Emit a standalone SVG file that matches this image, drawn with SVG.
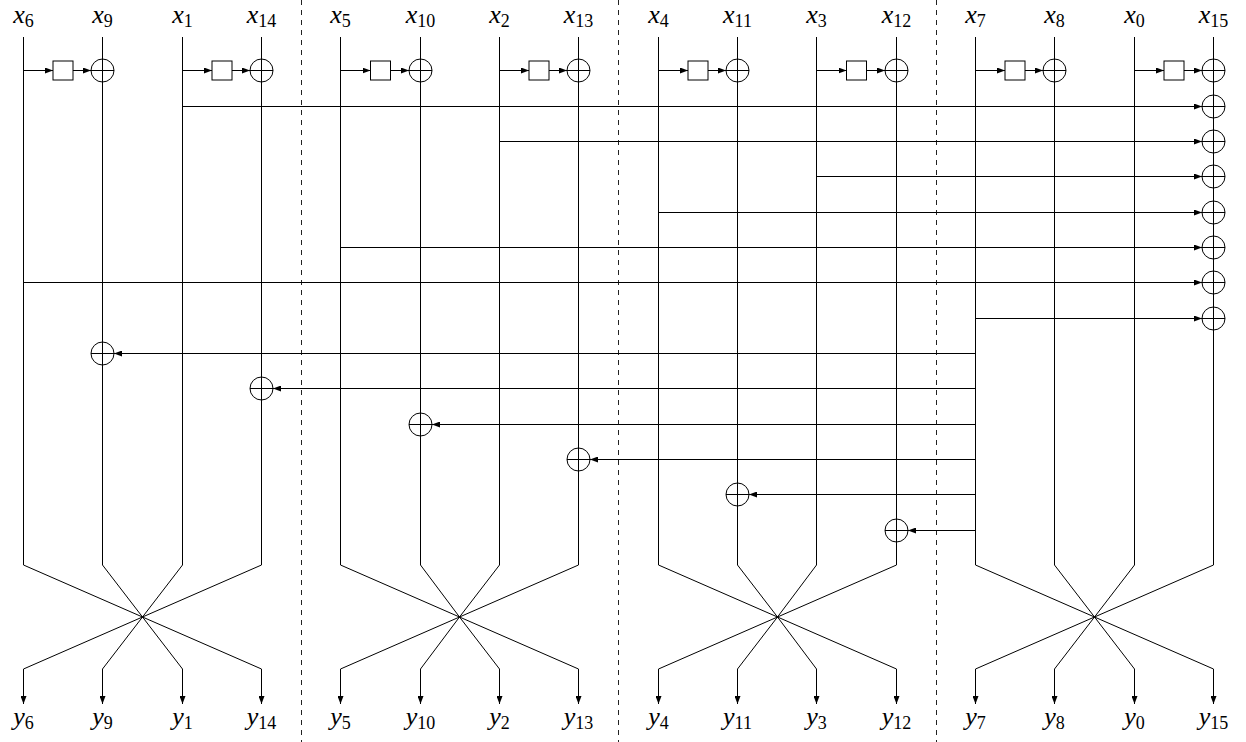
<svg xmlns="http://www.w3.org/2000/svg" width="1246" height="742" viewBox="0 0 1246 742">
<style>
.ln{stroke:#000;stroke-width:1;fill:none}
.ar{stroke:#000;stroke-width:1;fill:none;marker-end:url(#ah)}
.dash{stroke:#222;stroke-width:1;stroke-dasharray:5 5;fill:none}
.xor circle{fill:#fff;stroke:#000;stroke-width:1}
.xor line{stroke:#000;stroke-width:1}
.box rect{fill:#fff;stroke:#000;stroke-width:1}
.lbl{font-family:"Liberation Serif","Times New Roman",serif;font-style:italic;font-size:26px;text-anchor:middle;fill:#000}
.sub{font-style:normal;font-size:18px}
</style>
<defs>
<marker id="ah" viewBox="0 0 8 6" refX="8" refY="3" markerWidth="8" markerHeight="6" orient="auto" markerUnits="userSpaceOnUse"><path d="M0,0L8,3L0,6z" fill="#000"/></marker>
</defs>
<rect width="1246" height="742" fill="#fff"/>
<g id="separators">
<line class="dash" x1="301.5" y1="0" x2="301.5" y2="742"/>
<line class="dash" x1="618.5" y1="0" x2="618.5" y2="742"/>
<line class="dash" x1="936.5" y1="0" x2="936.5" y2="742"/>
</g>
<g id="connectors">
<path class="ln" d="M23.5,37V565M102.5,37V565M182.5,37V565M261.5,37V565M340.5,37V565M420.5,37V565M499.5,37V565M578.5,37V565M658.5,37V565M737.5,37V565M816.5,37V565M896.5,37V565M975.5,37V565M1054.5,37V565M1134.5,37V565M1213.5,37V565"/>
<path class="ln" d="M23.5,565L142.5,617L261.5,669M102.5,565L142.5,617L182.5,669M182.5,565L142.5,617L102.5,669M261.5,565L142.5,617L23.5,669"/>
<path class="ln" d="M340.5,565L459.5,617L578.5,669M420.5,565L459.5,617L499.5,669M499.5,565L459.5,617L420.5,669M578.5,565L459.5,617L340.5,669"/>
<path class="ln" d="M658.5,565L777.5,617L896.5,669M737.5,565L777.5,617L816.5,669M816.5,565L777.5,617L737.5,669M896.5,565L777.5,617L658.5,669"/>
<path class="ln" d="M975.5,565L1094.5,617L1213.5,669M1054.5,565L1094.5,617L1134.5,669M1134.5,565L1094.5,617L1054.5,669M1213.5,565L1094.5,617L975.5,669"/>
<line class="ar" x1="23.5" y1="669" x2="23.5" y2="704"/>
<line class="ar" x1="102.5" y1="669" x2="102.5" y2="704"/>
<line class="ar" x1="182.5" y1="669" x2="182.5" y2="704"/>
<line class="ar" x1="261.5" y1="669" x2="261.5" y2="704"/>
<line class="ar" x1="340.5" y1="669" x2="340.5" y2="704"/>
<line class="ar" x1="420.5" y1="669" x2="420.5" y2="704"/>
<line class="ar" x1="499.5" y1="669" x2="499.5" y2="704"/>
<line class="ar" x1="578.5" y1="669" x2="578.5" y2="704"/>
<line class="ar" x1="658.5" y1="669" x2="658.5" y2="704"/>
<line class="ar" x1="737.5" y1="669" x2="737.5" y2="704"/>
<line class="ar" x1="816.5" y1="669" x2="816.5" y2="704"/>
<line class="ar" x1="896.5" y1="669" x2="896.5" y2="704"/>
<line class="ar" x1="975.5" y1="669" x2="975.5" y2="704"/>
<line class="ar" x1="1054.5" y1="669" x2="1054.5" y2="704"/>
<line class="ar" x1="1134.5" y1="669" x2="1134.5" y2="704"/>
<line class="ar" x1="1213.5" y1="669" x2="1213.5" y2="704"/>
<line class="ar" x1="23.5" y1="70.5" x2="53" y2="70.5"/><line class="ar" x1="73" y1="70.5" x2="91" y2="70.5"/>
<line class="ar" x1="182.5" y1="70.5" x2="212" y2="70.5"/><line class="ar" x1="232" y1="70.5" x2="250" y2="70.5"/>
<line class="ar" x1="340.5" y1="70.5" x2="370.5" y2="70.5"/><line class="ar" x1="390.5" y1="70.5" x2="409" y2="70.5"/>
<line class="ar" x1="499.5" y1="70.5" x2="529" y2="70.5"/><line class="ar" x1="549" y1="70.5" x2="567" y2="70.5"/>
<line class="ar" x1="658.5" y1="70.5" x2="688" y2="70.5"/><line class="ar" x1="708" y1="70.5" x2="726" y2="70.5"/>
<line class="ar" x1="816.5" y1="70.5" x2="846.5" y2="70.5"/><line class="ar" x1="866.5" y1="70.5" x2="885" y2="70.5"/>
<line class="ar" x1="975.5" y1="70.5" x2="1005" y2="70.5"/><line class="ar" x1="1025" y1="70.5" x2="1043" y2="70.5"/>
<line class="ar" x1="1134.5" y1="70.5" x2="1164" y2="70.5"/><line class="ar" x1="1184" y1="70.5" x2="1202" y2="70.5"/>
<line class="ar" x1="182.5" y1="106.5" x2="1202" y2="106.5"/>
<line class="ar" x1="499.5" y1="141.5" x2="1202" y2="141.5"/>
<line class="ar" x1="816.5" y1="176.5" x2="1202" y2="176.5"/>
<line class="ar" x1="658.5" y1="212.5" x2="1202" y2="212.5"/>
<line class="ar" x1="340.5" y1="247.5" x2="1202" y2="247.5"/>
<line class="ar" x1="23.5" y1="282.5" x2="1202" y2="282.5"/>
<line class="ar" x1="975.5" y1="318.5" x2="1202" y2="318.5"/>
<line class="ar" x1="975.5" y1="353.5" x2="114" y2="353.5"/>
<line class="ar" x1="975.5" y1="388.5" x2="273" y2="388.5"/>
<line class="ar" x1="975.5" y1="424.5" x2="432" y2="424.5"/>
<line class="ar" x1="975.5" y1="459.5" x2="590" y2="459.5"/>
<line class="ar" x1="975.5" y1="494.5" x2="749" y2="494.5"/>
<line class="ar" x1="975.5" y1="530.5" x2="908" y2="530.5"/>
</g>
<g id="boxes">
<g id="box0" class="box"><rect x="53" y="61" width="20" height="19"/></g>
<g id="box1" class="box"><rect x="212" y="61" width="20" height="19"/></g>
<g id="box2" class="box"><rect x="370.5" y="61" width="20" height="19"/></g>
<g id="box3" class="box"><rect x="529" y="61" width="20" height="19"/></g>
<g id="box4" class="box"><rect x="688" y="61" width="20" height="19"/></g>
<g id="box5" class="box"><rect x="846.5" y="61" width="20" height="19"/></g>
<g id="box6" class="box"><rect x="1005" y="61" width="20" height="19"/></g>
<g id="box7" class="box"><rect x="1164" y="61" width="20" height="19"/></g>
</g>
<g id="xors">
<g id="xor-x9-a" class="xor"><circle cx="102.5" cy="70.5" r="11.5"/><line x1="91" y1="70.5" x2="114" y2="70.5"/><line x1="102.5" y1="59" x2="102.5" y2="82"/></g>
<g id="xor-x14-a" class="xor"><circle cx="261.5" cy="70.5" r="11.5"/><line x1="250" y1="70.5" x2="273" y2="70.5"/><line x1="261.5" y1="59" x2="261.5" y2="82"/></g>
<g id="xor-x10-a" class="xor"><circle cx="420.5" cy="70.5" r="11.5"/><line x1="409" y1="70.5" x2="432" y2="70.5"/><line x1="420.5" y1="59" x2="420.5" y2="82"/></g>
<g id="xor-x13-a" class="xor"><circle cx="578.5" cy="70.5" r="11.5"/><line x1="567" y1="70.5" x2="590" y2="70.5"/><line x1="578.5" y1="59" x2="578.5" y2="82"/></g>
<g id="xor-x11-a" class="xor"><circle cx="737.5" cy="70.5" r="11.5"/><line x1="726" y1="70.5" x2="749" y2="70.5"/><line x1="737.5" y1="59" x2="737.5" y2="82"/></g>
<g id="xor-x12-a" class="xor"><circle cx="896.5" cy="70.5" r="11.5"/><line x1="885" y1="70.5" x2="908" y2="70.5"/><line x1="896.5" y1="59" x2="896.5" y2="82"/></g>
<g id="xor-x8" class="xor"><circle cx="1054.5" cy="70.5" r="11.5"/><line x1="1043" y1="70.5" x2="1066" y2="70.5"/><line x1="1054.5" y1="59" x2="1054.5" y2="82"/></g>
<g id="xor-x15-0" class="xor"><circle cx="1213.5" cy="70.5" r="11.5"/><line x1="1202" y1="70.5" x2="1225" y2="70.5"/><line x1="1213.5" y1="59" x2="1213.5" y2="82"/></g>
<g id="xor-x15-1" class="xor"><circle cx="1213.5" cy="106.5" r="11.5"/><line x1="1202" y1="106.5" x2="1225" y2="106.5"/><line x1="1213.5" y1="95" x2="1213.5" y2="118"/></g>
<g id="xor-x15-2" class="xor"><circle cx="1213.5" cy="141.5" r="11.5"/><line x1="1202" y1="141.5" x2="1225" y2="141.5"/><line x1="1213.5" y1="130" x2="1213.5" y2="153"/></g>
<g id="xor-x15-3" class="xor"><circle cx="1213.5" cy="176.5" r="11.5"/><line x1="1202" y1="176.5" x2="1225" y2="176.5"/><line x1="1213.5" y1="165" x2="1213.5" y2="188"/></g>
<g id="xor-x15-4" class="xor"><circle cx="1213.5" cy="212.5" r="11.5"/><line x1="1202" y1="212.5" x2="1225" y2="212.5"/><line x1="1213.5" y1="201" x2="1213.5" y2="224"/></g>
<g id="xor-x15-5" class="xor"><circle cx="1213.5" cy="247.5" r="11.5"/><line x1="1202" y1="247.5" x2="1225" y2="247.5"/><line x1="1213.5" y1="236" x2="1213.5" y2="259"/></g>
<g id="xor-x15-6" class="xor"><circle cx="1213.5" cy="282.5" r="11.5"/><line x1="1202" y1="282.5" x2="1225" y2="282.5"/><line x1="1213.5" y1="271" x2="1213.5" y2="294"/></g>
<g id="xor-x15-7" class="xor"><circle cx="1213.5" cy="318.5" r="11.5"/><line x1="1202" y1="318.5" x2="1225" y2="318.5"/><line x1="1213.5" y1="307" x2="1213.5" y2="330"/></g>
<g id="xor-x9-b" class="xor"><circle cx="102.5" cy="353.5" r="11.5"/><line x1="91" y1="353.5" x2="114" y2="353.5"/><line x1="102.5" y1="342" x2="102.5" y2="365"/></g>
<g id="xor-x14-b" class="xor"><circle cx="261.5" cy="388.5" r="11.5"/><line x1="250" y1="388.5" x2="273" y2="388.5"/><line x1="261.5" y1="377" x2="261.5" y2="400"/></g>
<g id="xor-x10-b" class="xor"><circle cx="420.5" cy="424.5" r="11.5"/><line x1="409" y1="424.5" x2="432" y2="424.5"/><line x1="420.5" y1="413" x2="420.5" y2="436"/></g>
<g id="xor-x13-b" class="xor"><circle cx="578.5" cy="459.5" r="11.5"/><line x1="567" y1="459.5" x2="590" y2="459.5"/><line x1="578.5" y1="448" x2="578.5" y2="471"/></g>
<g id="xor-x11-b" class="xor"><circle cx="737.5" cy="494.5" r="11.5"/><line x1="726" y1="494.5" x2="749" y2="494.5"/><line x1="737.5" y1="483" x2="737.5" y2="506"/></g>
<g id="xor-x12-b" class="xor"><circle cx="896.5" cy="530.5" r="11.5"/><line x1="885" y1="530.5" x2="908" y2="530.5"/><line x1="896.5" y1="519" x2="896.5" y2="542"/></g>
</g>
<g id="inputs">
<text class="lbl" x="23.5" y="23">x<tspan class="sub" dy="4">6</tspan></text>
<text class="lbl" x="102.5" y="23">x<tspan class="sub" dy="4">9</tspan></text>
<text class="lbl" x="182.5" y="23">x<tspan class="sub" dy="4">1</tspan></text>
<text class="lbl" x="261.5" y="23">x<tspan class="sub" dy="4">14</tspan></text>
<text class="lbl" x="340.5" y="23">x<tspan class="sub" dy="4">5</tspan></text>
<text class="lbl" x="420.5" y="23">x<tspan class="sub" dy="4">10</tspan></text>
<text class="lbl" x="499.5" y="23">x<tspan class="sub" dy="4">2</tspan></text>
<text class="lbl" x="578.5" y="23">x<tspan class="sub" dy="4">13</tspan></text>
<text class="lbl" x="658.5" y="23">x<tspan class="sub" dy="4">4</tspan></text>
<text class="lbl" x="737.5" y="23">x<tspan class="sub" dy="4">11</tspan></text>
<text class="lbl" x="816.5" y="23">x<tspan class="sub" dy="4">3</tspan></text>
<text class="lbl" x="896.5" y="23">x<tspan class="sub" dy="4">12</tspan></text>
<text class="lbl" x="975.5" y="23">x<tspan class="sub" dy="4">7</tspan></text>
<text class="lbl" x="1054.5" y="23">x<tspan class="sub" dy="4">8</tspan></text>
<text class="lbl" x="1134.5" y="23">x<tspan class="sub" dy="4">0</tspan></text>
<text class="lbl" x="1213.5" y="23">x<tspan class="sub" dy="4">15</tspan></text>
</g>
<g id="outputs">
<text class="lbl" x="23.5" y="725">y<tspan class="sub" dy="4">6</tspan></text>
<text class="lbl" x="102.5" y="725">y<tspan class="sub" dy="4">9</tspan></text>
<text class="lbl" x="182.5" y="725">y<tspan class="sub" dy="4">1</tspan></text>
<text class="lbl" x="261.5" y="725">y<tspan class="sub" dy="4">14</tspan></text>
<text class="lbl" x="340.5" y="725">y<tspan class="sub" dy="4">5</tspan></text>
<text class="lbl" x="420.5" y="725">y<tspan class="sub" dy="4">10</tspan></text>
<text class="lbl" x="499.5" y="725">y<tspan class="sub" dy="4">2</tspan></text>
<text class="lbl" x="578.5" y="725">y<tspan class="sub" dy="4">13</tspan></text>
<text class="lbl" x="658.5" y="725">y<tspan class="sub" dy="4">4</tspan></text>
<text class="lbl" x="737.5" y="725">y<tspan class="sub" dy="4">11</tspan></text>
<text class="lbl" x="816.5" y="725">y<tspan class="sub" dy="4">3</tspan></text>
<text class="lbl" x="896.5" y="725">y<tspan class="sub" dy="4">12</tspan></text>
<text class="lbl" x="975.5" y="725">y<tspan class="sub" dy="4">7</tspan></text>
<text class="lbl" x="1054.5" y="725">y<tspan class="sub" dy="4">8</tspan></text>
<text class="lbl" x="1134.5" y="725">y<tspan class="sub" dy="4">0</tspan></text>
<text class="lbl" x="1213.5" y="725">y<tspan class="sub" dy="4">15</tspan></text>
</g>
</svg>
